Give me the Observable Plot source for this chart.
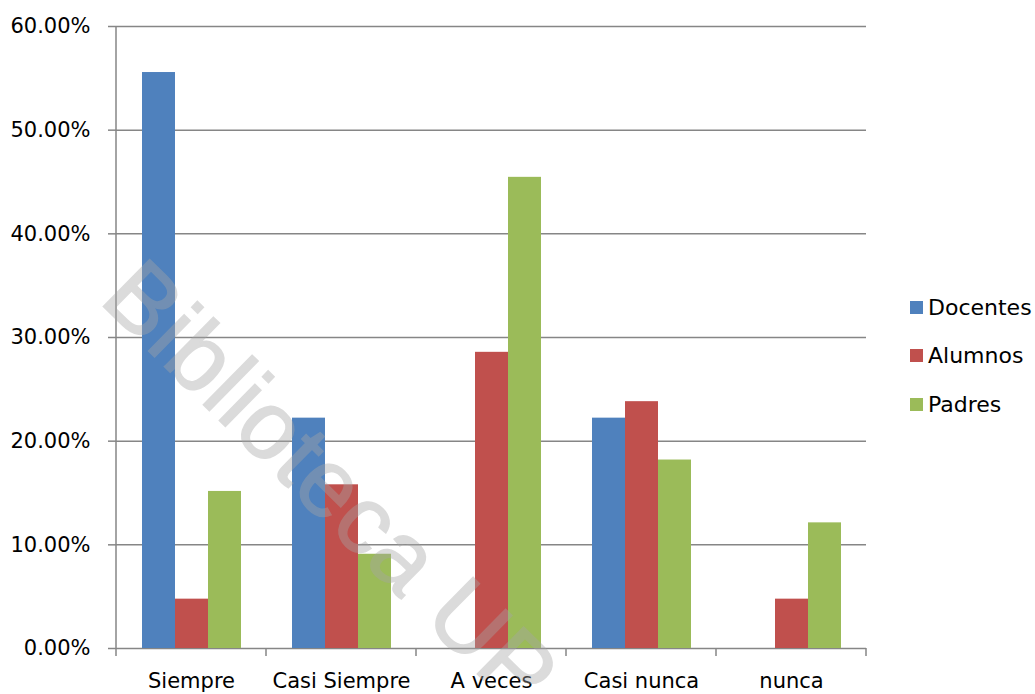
<!DOCTYPE html>
<html>
<head>
<meta charset="utf-8">
<script src="https://cdn.jsdelivr.net/npm/d3@7"></script>
<script src="https://cdn.jsdelivr.net/npm/@observablehq/plot@0.6"></script>
<style>
  html, body { margin: 0; padding: 0; background: #fff; }
  #wrap { position: relative; width: 1035px; height: 694px; overflow: hidden; font-family: "DejaVu Sans", sans-serif; }
  #legend { position: absolute; left: 910px; top: 283px; font-size: 22px; color: #000; }
  #legend .item { display: flex; align-items: center; height: 48.5px; }
  #legend .sw { width: 13px; height: 13px; margin-right: 5px; }
  #wm { position: absolute; left: 331px; top: 484px; transform: translate(-50%, -50%) rotate(44.5deg);
        font-family: "Liberation Sans", sans-serif; font-size: 96px; color: #a6a6a6; opacity: 0.4;
        -webkit-text-stroke: 1.5px #a6a6a6; letter-spacing: 1px;
        white-space: nowrap; pointer-events: none; line-height: 1; }
</style>
</head>
<body>
<div id="wrap"></div>
<script>
const categories = ["Siempre", "Casi Siempre", "A veces", "Casi nunca", "nunca"];
const series = ["Docentes", "Alumnos", "Padres"];
const docentes = [55.56, 22.22, 0, 22.22, 0];
const alumnos = [4.76, 15.79, 28.57, 23.81, 4.76];
const padres = [15.15, 9.09, 45.45, 18.18, 12.12];
const colors = ["#4F81BD", "#C0504D", "#9BBB59"];
const yTicks = [0, 10, 20, 30, 40, 50, 60];

const values = [docentes, alumnos, padres];
const rows = [];
categories.forEach((c, i) => series.forEach((s, j) => rows.push({cat: c, serie: s, value: values[j][i]})));

const gridColor = "#868686";

const plot = Plot.plot({
  width: 1035,
  height: 694,
  marginLeft: 116,
  marginRight: 169,
  marginTop: 26,
  marginBottom: 46,
  style: {fontFamily: "DejaVu Sans, sans-serif", fontSize: "21px", color: "#000", background: "transparent"},
  fx: {domain: categories, padding: 0, label: null},
  x: {domain: series, paddingInner: 0, paddingOuter: 0.75, axis: null},
  y: {domain: [0, 60], label: null},
  color: {domain: series, range: colors},
  marks: [
    Plot.gridY(yTicks, {stroke: gridColor, strokeOpacity: 1, strokeWidth: 1.5}),
    Plot.barY(rows, {fx: "cat", x: "serie", y: "value", fill: "serie"}),
    Plot.axisY(yTicks, {
      tickSize: 8, tickPadding: 18, stroke: gridColor, strokeWidth: 1.5, fill: "#000",
      fontSize: 21, tickFormat: d => d.toFixed(2) + "%", label: null
    }),
    Plot.axisFx({anchor: "bottom", tickSize: 0, tickPadding: 25, fontSize: 21, fill: "#000", label: null})
  ]
});

document.getElementById("wrap").appendChild(plot);

// axis line and category boundary ticks, positioned through Plot's scales
const fx = plot.scale("fx");
const ys = plot.scale("y");
const y0 = ys.apply(0), yTop = ys.apply(60);
const edges = categories.map(c => fx.apply(c));
edges.push(fx.apply(categories[categories.length - 1]) + fx.bandwidth);
const g = d3.select(plot).append("g").attr("stroke", gridColor).attr("stroke-width", 1.5);
g.append("line").attr("x1", edges[0]).attr("x2", edges[0]).attr("y1", yTop).attr("y2", y0 + 8);
edges.slice(1).forEach(x => g.append("line").attr("x1", x).attr("x2", x).attr("y1", y0).attr("y2", y0 + 8));

// legend
const legend = document.createElement("div");
legend.id = "legend";
series.forEach((s, i) => {
  const item = document.createElement("div");
  item.className = "item";
  item.innerHTML = `<span class="sw" style="background:${colors[i]}"></span><span>${s}</span>`;
  legend.appendChild(item);
});
document.getElementById("wrap").appendChild(legend);

// watermark
const wm = document.createElement("div");
wm.id = "wm";
wm.textContent = "Biblioteca UP";
document.getElementById("wrap").appendChild(wm);
</script>
</body>
</html>
